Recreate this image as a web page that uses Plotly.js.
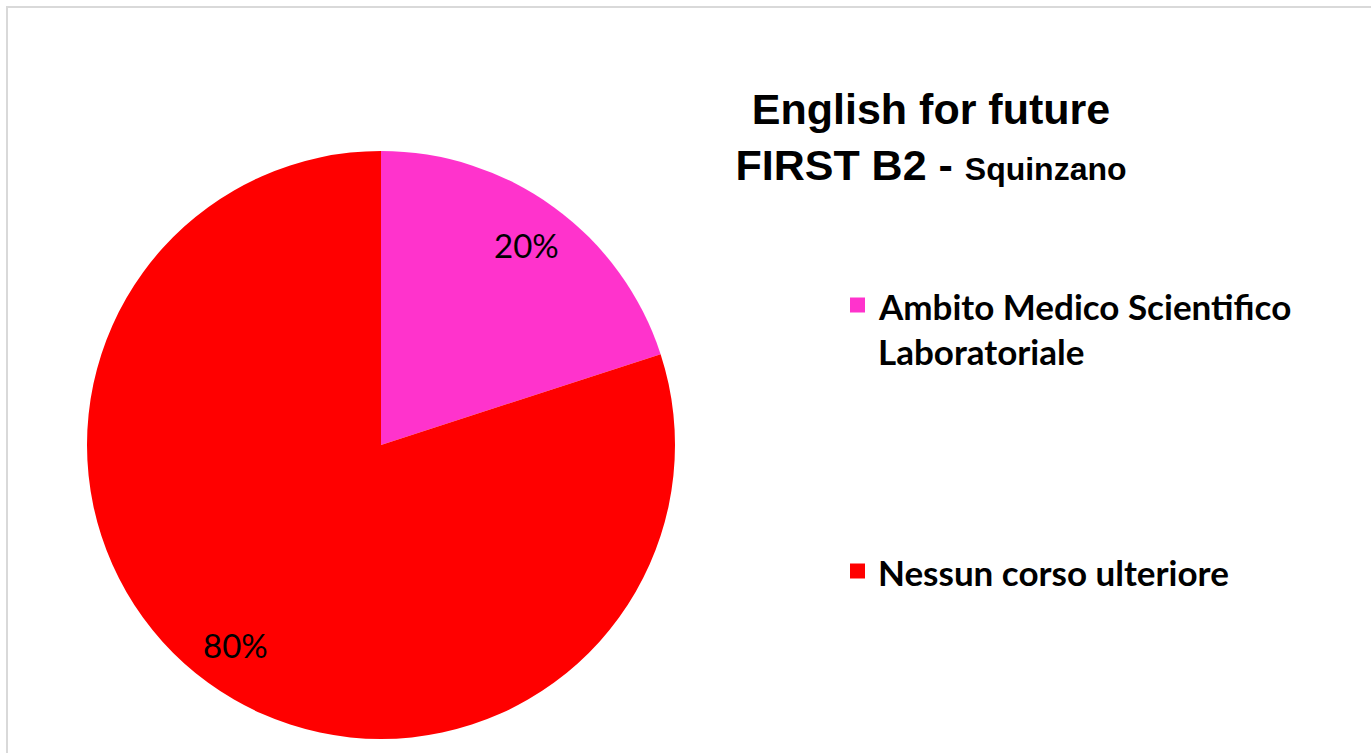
<!DOCTYPE html>
<html><head><meta charset="utf-8">
<script src="https://cdn.plot.ly/plotly-3.0.1.min.js"></script>
<style>html,body{margin:0;padding:0;background:#fff;overflow:hidden}#chart{width:1371px;height:753px}</style>
</head><body><div id="chart"></div>
<script>
// ---- data ----
const categories = ["Ambito Medico Scientifico Laboratoriale", "Nessun corso ulteriore"];
const values = [20, 80];
const colors = ["#FF33CC", "#FF0000"];
const titleLine1 = "English for future";
const titleLine2 = "FIRST B2 - ";
const titleSub = "Squinzano";

// ---- layout geometry (pixels) ----
const W = 1371, H = 753;
const cx = 381, cy = 445, R = 294;
const labelRadius = 0.84;
const legendX = 876, legendMarkX = 850, legendMark = 15;
const legendFirstY = 306, legendItemStep = 266, legendLineStep = 45;
const legendFont = {family: "Lato, 'Open Sans', sans-serif", size: 35, color: "#000", weight: 700};
const labelFont = {family: "Lato, 'Open Sans', sans-serif", size: 33, color: "#000"};

const px = x => x / W;
const py = y => 1 - y / H;

function wrap(text, maxChars) {
  const words = text.split(" "); const lines = []; let cur = "";
  words.forEach(w => {
    if (cur && (cur + " " + w).length > maxChars) { lines.push(cur); cur = w; }
    else cur = cur ? cur + " " + w : w;
  });
  if (cur) lines.push(cur);
  return lines;
}

const total = values.reduce((a, b) => a + b, 0);

const trace = {
  type: "pie",
  labels: categories,
  values: values,
  marker: {colors: colors, line: {width: 0}},
  sort: false,
  direction: "clockwise",
  rotation: 0,
  textinfo: "none",
  hoverinfo: "label+percent",
  showlegend: false,
  domain: {x: [px(cx - R), px(cx + R)], y: [py(cy + R), py(cy - R)]}
};

const annotations = [];
const shapes = [];

// percentage labels at slice mid-angles
let cum = 0;
values.forEach(v => {
  const mid = (cum + v / 2) / total * 2 * Math.PI;
  cum += v;
  const lx = cx + labelRadius * R * Math.sin(mid);
  const ly = cy - labelRadius * R * Math.cos(mid);
  annotations.push({
    x: px(lx), y: py(ly), xref: "paper", yref: "paper",
    text: Math.round(v / total * 100) + "%", showarrow: false,
    xanchor: "center", yanchor: "middle", font: labelFont
  });
});

// legend
categories.forEach((c, i) => {
  const y0 = legendFirstY + i * legendItemStep;
  shapes.push({
    type: "rect", xref: "paper", yref: "paper",
    x0: px(legendMarkX), x1: px(legendMarkX + legendMark),
    y0: py(y0 - 1 - legendMark / 2), y1: py(y0 - 1 + legendMark / 2),
    fillcolor: colors[i], line: {width: 0}
  });
  wrap(c, 26).forEach((line, j) => {
    annotations.push({
      x: px(legendX), y: py(y0 + j * legendLineStep), xref: "paper", yref: "paper",
      text: line, showarrow: false, xanchor: "left", yanchor: "middle", font: legendFont
    });
  });
});

// outer frame
shapes.push({
  type: "rect", xref: "paper", yref: "paper",
  x0: px(7), x1: px(W + 20), y0: py(H + 20), y1: py(7),
  line: {color: "#d9d9d9", width: 2}, fillcolor: "rgba(0,0,0,0)"
});

const layout = {
  width: W, height: H,
  margin: {l: 0, r: 0, t: 0, b: 0},
  paper_bgcolor: "#fff",
  showlegend: false,
  title: {
    text: titleLine1 + "<br>" + titleLine2 + '<span style="font-size:32px">' + titleSub + "</span>",
    font: {family: "'Liberation Sans', Arial, sans-serif", size: 43, color: "#000", weight: 700},
    x: px(931), xanchor: "center", xref: "paper",
    y: 1 - 124 / H, yanchor: "top", yref: "container"
  },
  annotations: annotations,
  shapes: shapes
};

Plotly.newPlot("chart", [trace], layout, {displayModeBar: false, staticPlot: true});
</script>
</body></html>
